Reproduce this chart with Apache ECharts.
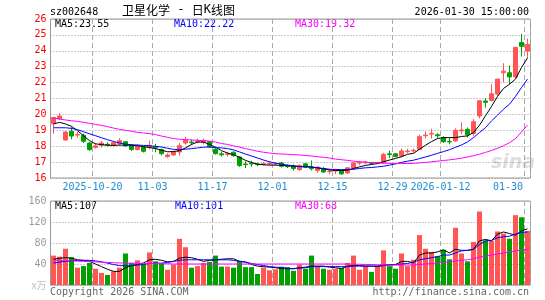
<!DOCTYPE html>
<html>
<head>
<meta charset="utf-8">
<script src="https://cdn.jsdelivr.net/npm/echarts@6.0.0/dist/echarts.min.js"></script>
<style>
html,body{margin:0;padding:0;background:#fff;}
#main{width:545px;height:300px;}
</style>
</head>
<body>
<div id="main"></div>
<script>
// 交易日
var dates = [
  '2025-10-09','2025-10-10',
  '2025-10-13','2025-10-14','2025-10-15','2025-10-16','2025-10-17',
  '2025-10-20','2025-10-21','2025-10-22','2025-10-23','2025-10-24',
  '2025-10-27','2025-10-28','2025-10-29','2025-10-30','2025-10-31',
  '2025-11-03','2025-11-04','2025-11-05','2025-11-06','2025-11-07',
  '2025-11-10','2025-11-11','2025-11-12','2025-11-13','2025-11-14',
  '2025-11-17','2025-11-18','2025-11-19','2025-11-20','2025-11-21',
  '2025-11-24','2025-11-25','2025-11-26','2025-11-27','2025-11-28',
  '2025-12-01','2025-12-02','2025-12-03','2025-12-04','2025-12-05',
  '2025-12-08','2025-12-09','2025-12-10','2025-12-11','2025-12-12',
  '2025-12-15','2025-12-16','2025-12-17','2025-12-18','2025-12-19',
  '2025-12-22','2025-12-23','2025-12-24','2025-12-25','2025-12-26',
  '2025-12-29','2025-12-30','2025-12-31',
  '2026-01-05','2026-01-06','2026-01-07','2026-01-08','2026-01-09',
  '2026-01-12','2026-01-13','2026-01-14','2026-01-15','2026-01-16',
  '2026-01-19','2026-01-20','2026-01-21','2026-01-22','2026-01-23',
  '2026-01-26','2026-01-27','2026-01-28','2026-01-29','2026-01-30'
];

// [开, 收, 低, 高]
var kline = [
  [19.42,19.80,18.79,19.85],[19.72,19.90,19.65,20.08],[18.39,18.89,18.35,18.95],[18.94,18.64,18.43,19.20],
  [18.70,18.74,18.55,18.90],[18.69,18.31,18.20,18.79],[18.20,17.79,17.70,18.26],[17.93,18.02,17.85,18.20],
  [18.06,18.20,17.92,18.33],[18.12,18.08,17.98,18.25],[18.06,18.22,17.98,18.30],[18.16,18.35,18.05,18.50],
  [18.28,18.02,17.95,18.30],[18.05,17.80,17.70,18.15],[17.79,18.00,17.72,18.15],[17.95,17.68,17.60,18.00],
  [17.92,18.05,17.80,18.35],[17.98,17.90,17.62,18.15],[17.78,17.53,17.42,17.85],[17.35,17.45,17.27,17.55],
  [17.45,17.65,17.40,17.72],[17.64,18.03,17.40,18.20],[18.20,18.40,18.10,18.60],[18.26,18.22,18.08,18.42],
  [18.28,18.32,18.18,18.48],[18.24,18.34,18.12,18.48],[18.28,17.98,17.90,18.33],[17.80,17.53,17.48,17.90],
  [17.52,17.46,17.35,17.65],[17.48,17.52,17.35,17.65],[17.62,17.40,17.34,17.68],[17.32,16.78,16.70,17.36],
  [16.88,16.84,16.62,17.05],[16.92,16.88,16.72,17.08],[16.88,16.84,16.75,16.96],[16.86,16.90,16.80,17.00],
  [16.88,16.92,16.80,17.02],[16.88,16.91,16.78,17.00],[16.95,16.74,16.66,17.00],[16.76,16.72,16.62,16.85],
  [16.74,16.60,16.47,16.85],[16.53,16.79,16.45,16.85],[16.89,16.68,16.62,16.92],[16.68,16.58,16.47,17.10],
  [16.47,16.68,16.32,16.74],[16.60,16.38,16.32,16.68],[16.40,16.44,16.24,16.58],[16.44,16.48,16.24,16.58],
  [16.47,16.26,16.20,16.53],[16.32,16.64,16.26,16.68],[16.62,16.95,16.55,16.98],[16.94,16.98,16.80,17.08],
  [16.96,17.00,16.86,17.08],[16.96,16.92,16.84,17.02],[16.92,16.96,16.86,17.02],[16.98,17.48,16.92,17.58],
  [17.52,17.48,17.25,17.72],[17.52,17.36,17.30,17.56],[17.38,17.70,17.30,17.86],[17.66,17.70,17.55,17.84],
  [17.70,17.74,17.60,17.86],[17.80,18.60,17.76,18.72],[18.66,18.70,18.48,18.92],[18.76,18.80,18.48,19.10],
  [18.72,18.66,18.52,18.82],[18.54,18.28,18.20,18.62],[18.30,18.27,18.12,18.54],[18.33,19.00,18.28,19.12],
  [18.96,19.02,18.75,19.50],[19.06,18.72,18.55,19.17],[18.80,19.54,18.65,19.70],[19.90,20.86,19.75,20.86],
  [20.84,20.76,20.43,21.02],[20.88,21.30,20.82,21.90],[21.28,22.22,21.17,22.22],[22.62,22.72,22.02,23.22],
  [22.62,22.36,21.90,23.08],[22.36,24.22,22.30,24.25],[24.52,24.28,23.65,25.06],[23.98,24.40,23.55,24.76]
];

var ma5 = [
  19.40,19.50,19.40,19.25,18.98,18.66,18.35,18.15,18.10,18.06,
  18.05,18.07,18.07,18.06,18.03,17.97,17.92,17.85,17.75,17.65,
  17.66,17.72,17.89,18.11,18.26,18.26,18.11,17.94,17.72,17.57,
  17.47,17.30,17.11,16.98,16.87,16.83,16.81,16.81,16.79,16.77,
  16.74,16.72,16.72,16.70,16.64,16.57,16.51,16.47,16.47,16.49,
  16.60,16.70,16.79,16.85,16.91,17.02,17.13,17.23,17.34,17.49,
  17.55,17.81,18.06,18.29,18.48,18.54,18.54,18.54,18.61,18.65,
  18.86,19.32,19.91,20.50,21.13,21.63,21.90,22.22,22.95,23.55
];
var ma10 = [
  19.16,19.16,19.16,19.12,19.04,18.91,18.78,18.66,18.53,18.41,
  18.30,18.20,18.13,18.09,18.07,18.05,18.03,17.99,17.95,17.87,
  17.80,17.78,17.81,17.85,17.89,17.94,17.94,17.91,17.89,17.85,
  17.77,17.64,17.51,17.38,17.26,17.13,17.02,16.94,16.87,16.81,
  16.77,16.72,16.70,16.68,16.64,16.60,16.55,16.53,16.53,16.53,
  16.55,16.60,16.64,16.66,16.70,16.74,16.81,16.89,16.98,17.06,
  17.12,17.22,17.32,17.43,17.55,17.66,17.78,17.93,18.08,18.27,
  18.54,18.86,19.17,19.59,19.95,20.33,20.64,21.13,21.69,22.22
];
var ma30 = [
  19.77,19.71,19.65,19.60,19.56,19.50,19.44,19.37,19.31,19.23,
  19.14,19.06,19.00,18.94,18.87,18.83,18.79,18.73,18.64,18.56,
  18.48,18.44,18.41,18.39,18.37,18.35,18.32,18.26,18.17,18.11,
  18.02,17.94,17.85,17.77,17.68,17.62,17.57,17.53,17.51,17.49,
  17.47,17.45,17.42,17.38,17.34,17.30,17.26,17.19,17.15,17.11,
  17.06,17.02,17.00,16.97,16.95,16.93,16.92,16.91,16.91,16.91,
  16.92,16.95,16.98,17.02,17.06,17.10,17.14,17.19,17.25,17.32,
  17.40,17.50,17.61,17.73,17.87,18.03,18.22,18.48,18.90,19.32
];

// 成交量(万)
var volumes = [
  56,54,69,53,33,36,42,31,23,19,
  26,33,60,42,47,39,62,45,41,29,
  39,88,72,33,36,42,44,56,35,35,
  33,46,34,34,21,33,28,30,35,34,
  27,39,31,56,36,31,29,31,33,42,
  56,29,36,25,35,66,36,31,60,36,
  48,95,69,63,55,67,49,109,60,45,
  82,140,85,84,102,98,88,133,129,103
];
var volMa5 = [
  49,51,52,51,48,47,45,40,35,30,
  26,26,33,37,39,42,48,49,47,44,
  45,51,53,52,49,45,47,48,49,50,
  50,45,44,39,36,35,34,33,31,31,
  31,33,34,36,36,36,34,33,31,36,
  37,37,36,36,35,37,39,39,45,45,
  42,57,61,61,63,67,61,68,66,66,
  68,84,87,84,97,101,98,95,103,107
];
var volMa10 = [
  42,43.5,45,46,47,47,47,46,44,41.6,
  39,37,36.5,36.5,38,39,41,41.6,41.6,43,
  45,47,48,48,48,48,48,48,48,48,
  47,45,43.5,41,39,37,35,34,33,32,
  31,32,33,35,35,35,35,35,35,35,
  36,36,36,36,36.5,38,38,39,40,41,
  43.5,48,50,52,54,57,57,61,65,66,
  68,77,84,85,90,92,93,97,100,101
];
var volMa30 = [
  47,47,46.5,46,45.5,45,44.5,44,43.5,43,
  42.5,42,42,41.5,41.5,41,41,41,40.5,40.5,
  40,40,40,40,40,40,40,40,40,40,
  40,40,40,40,40,40,40,40,40,40,
  40,40,40,40,40,40,40,40,40,40,
  39.5,39.5,39,39,38.5,38.5,38,38,38,38,
  38,39,40,41,42,43,44,46,47,48,
  50,53,55,57,59,61,63,65,66.5,68
];

// 横轴刻度
var tickIndex = [7, 17, 27, 37, 47, 57, 65, 79];
var tickText = ['2025-10-20', '11-03', '11-17', '12-01', '12-15', '12-29', '2026-01-12', '01-30'];

var upColor = '#ff5555';
var downColor = '#00a000';
var mono = 'DejaVu Sans Mono';

var volData = [];
for (var i = 0; i < volumes.length; i++) {
  volData.push({
    value: volumes[i],
    itemStyle: { color: kline[i][1] >= kline[i][0] ? upColor : downColor }
  });
}

function lastOf(arr) { return arr[arr.length - 1]; }
function isTick(index) { return tickIndex.indexOf(index) >= 0; }

var vSplit = { show: true, interval: isTick, lineStyle: { color: '#aaa', type: [5, 3], width: 1 } };
var hSplit = { show: true, lineStyle: { color: '#999', type: [1, 2], width: 1 } };

var myChart = echarts.init(document.getElementById('main'), null, { renderer: 'canvas' });

function txt(x, y, text, color, align) {
  return {
    type: 'text', x: x, y: y, silent: true,
    style: { text: text, fill: color, font: '10px "' + mono + '"', textAlign: align || 'left', textVerticalAlign: 'middle' }
  };
}

var option = {
  animation: false,
  backgroundColor: '#fff',
  textStyle: { fontFamily: mono },
  grid: [
    { left: 50.5, top: 19, width: 480, height: 159, show: true, borderColor: '#999', borderWidth: 1 },
    { left: 50.5, top: 201, width: 480, height: 84, show: true, borderColor: '#999', borderWidth: 1 }
  ],
  xAxis: [
    {
      type: 'category', gridIndex: 0, data: dates, boundaryGap: true,
      axisLine: { show: false }, axisTick: { show: false }, axisLabel: { show: false },
      splitLine: vSplit
    },
    {
      type: 'category', gridIndex: 1, data: dates, boundaryGap: true,
      axisLine: { show: false }, axisTick: { show: false }, axisLabel: { show: false },
      splitLine: vSplit
    },
    {
      type: 'value', gridIndex: 0, min: 0, max: dates.length, position: 'bottom',
      axisLine: { show: false }, axisTick: { show: false }, splitLine: { show: false },
      axisLabel: {
        customValues: tickIndex,
        margin: 4,
        color: '#1e8cd2', fontSize: 10, fontFamily: mono,
        formatter: function (v) {
          var k = tickIndex.indexOf(v);
          if (k < 0) return '';
          if (k === tickIndex.length - 1) return '{last|' + tickText[k] + '}';
          return tickText[k];
        },
        rich: {
          last: { color: '#1e8cd2', fontSize: 10, fontFamily: mono, padding: [0, 33, 0, 0] }
        }
      }
    }
  ],
  yAxis: [
    {
      type: 'value', gridIndex: 0, min: 16, max: 26, interval: 1,
      axisLine: { show: false }, axisTick: { show: false },
      axisLabel: { color: '#ff0000', fontSize: 10, fontFamily: mono, margin: 4 },
      splitLine: hSplit
    },
    {
      type: 'value', gridIndex: 1, min: 0, max: 160, interval: 40,
      axisLine: { show: false }, axisTick: { show: false },
      axisLabel: {
        color: '#999', fontSize: 10, fontFamily: mono, margin: 4,
        formatter: function (v) { return v === 0 ? '{u|x万}' : String(v); },
        rich: { u: { color: '#c0c0c0', fontSize: 10, fontFamily: 'Noto Sans CJK SC' } }
      },
      splitLine: hSplit
    }
  ],
  series: [
    {
      name: '日K', type: 'candlestick', xAxisIndex: 0, yAxisIndex: 0,
      data: kline, barWidth: 4,
      itemStyle: { color: upColor, color0: downColor, borderColor: upColor, borderColor0: downColor, borderWidth: 1 }
    },
    { name: 'MA5', type: 'line', xAxisIndex: 0, yAxisIndex: 0, data: ma5, showSymbol: false, lineStyle: { color: '#000', width: 1 }, z: 3 },
    { name: 'MA10', type: 'line', xAxisIndex: 0, yAxisIndex: 0, data: ma10, showSymbol: false, lineStyle: { color: '#0000ff', width: 1 }, z: 3 },
    { name: 'MA30', type: 'line', xAxisIndex: 0, yAxisIndex: 0, data: ma30, showSymbol: false, lineStyle: { color: '#ff00ff', width: 1 }, z: 3 },
    { name: 'VOL', type: 'bar', xAxisIndex: 1, yAxisIndex: 1, data: volData, barWidth: 5 },
    { name: 'VMA5', type: 'line', xAxisIndex: 1, yAxisIndex: 1, data: volMa5, showSymbol: false, lineStyle: { color: '#000', width: 1 }, z: 3 },
    { name: 'VMA10', type: 'line', xAxisIndex: 1, yAxisIndex: 1, data: volMa10, showSymbol: false, lineStyle: { color: '#0000ff', width: 1 }, z: 3 },
    { name: 'VMA30', type: 'line', xAxisIndex: 1, yAxisIndex: 1, data: volMa30, showSymbol: false, lineStyle: { color: '#ff00ff', width: 1 }, z: 3 }
  ],
  graphic: [
    txt(50, 12, 'sz002648', '#000'),
    {
      type: 'text', x: 122, y: 10, silent: true,
      style: {
        text: '{c|卫星化学}{m| - }{c|日}{m|K}{c|线图}',
        textVerticalAlign: 'middle',
        rich: {
          c: { font: '12px "Noto Sans CJK SC"', fill: '#000' },
          m: { font: '12px "' + mono + '"', fill: '#000' }
        }
      }
    },
    txt(529, 12, '2026-01-30 15:00:00', '#000', 'right'),
    txt(55, 24, 'MA5:' + lastOf(ma5).toFixed(2), '#000'),
    txt(174, 24, 'MA10:' + lastOf(ma10).toFixed(2), '#0000ff'),
    txt(295, 24, 'MA30:' + lastOf(ma30).toFixed(2), '#ff00ff'),
    txt(55, 206, 'MA5:' + lastOf(volMa5), '#000'),
    txt(175, 206, 'MA10:' + lastOf(volMa10), '#0000ff'),
    txt(295, 206, 'MA30:' + lastOf(volMa30), '#ff00ff'),
    txt(50, 292, 'Copyright 2026 SINA.COM', '#666'),
    txt(529, 292, 'http://finance.sina.com.cn', '#666', 'right'),
    {
      type: 'text', x: 513, y: 163, silent: true, z: -1,
      style: { text: 'sina', fill: '#e0dcdc', font: 'italic bold 19px "DejaVu Sans"', textAlign: 'center', textVerticalAlign: 'middle' }
    }
  ]
};

myChart.setOption(option);
</script>
</body>
</html>
